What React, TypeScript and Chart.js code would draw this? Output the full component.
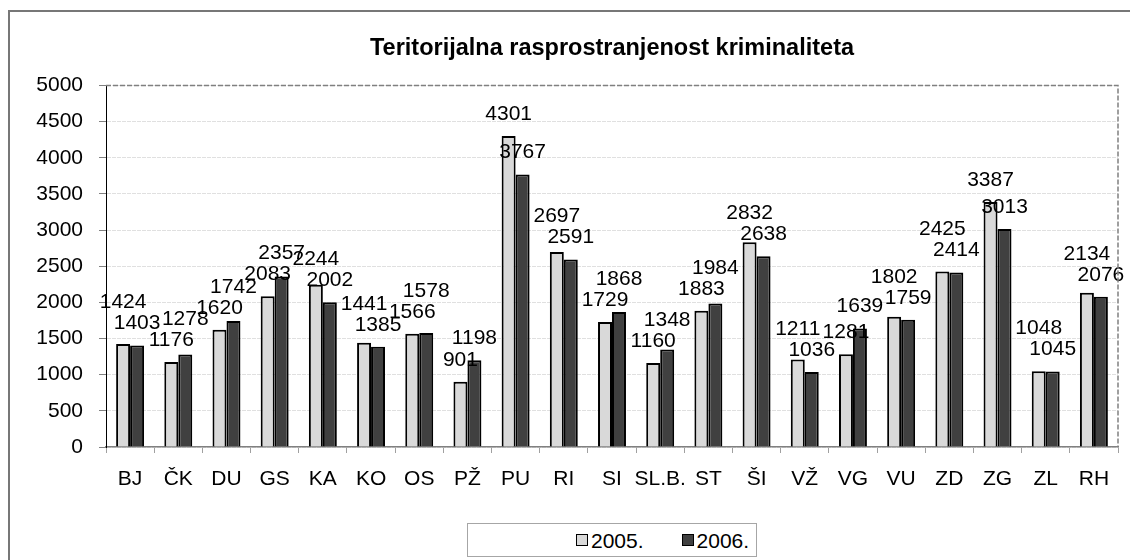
import React, { useEffect, useRef } from 'react';
import { Chart, registerables } from 'chart.js';

Chart.register(...registerables);

const chartTitle = 'Teritorijalna rasprostranjenost kriminaliteta';
const categories = ['BJ', 'ČK', 'DU', 'GS', 'KA', 'KO', 'OS', 'PŽ', 'PU', 'RI', 'SI', 'SL.B.', 'ST', 'ŠI', 'VŽ', 'VG', 'VU', 'ZD', 'ZG', 'ZL', 'RH'];
const values2005 = [1424, 1176, 1620, 2083, 2244, 1441, 1566, 901, 4301, 2697, 1729, 1160, 1883, 2832, 1211, 1281, 1802, 2425, 3387, 1048, 2134];
const values2006 = [1403, 1278, 1742, 2357, 2002, 1385, 1578, 1198, 3767, 2591, 1868, 1348, 1984, 2638, 1036, 1639, 1759, 2414, 3013, 1045, 2076];
const seriesNames = ['2005.', '2006.'];
const seriesColors = ['#d9d9d9', '#404040'];
const yMin = 0;
const yMax = 5000;
const yStep = 500;

const FONT = '"Liberation Sans", Arial, Helvetica, sans-serif';
const TEXT_SIZE = 21;

const valueLabels = {
  id: 'valueLabels',
  afterDatasetsDraw(chart: any) {
    const ctx = chart.ctx;
    const m0 = chart.getDatasetMeta(0);
    const m1 = chart.getDatasetMeta(1);
    const d0 = chart.data.datasets[0].data;
    const d1 = chart.data.datasets[1].data;
    const OFF = 22;
    const GAP = 21;
    ctx.save();
    ctx.font = `${TEXT_SIZE}px ${FONT}`;
    ctx.fillStyle = '#000';
    ctx.textAlign = 'center';
    ctx.textBaseline = 'middle';
    m0.data.forEach((el0: any, i: number) => {
      const el1 = m1.data[i];
      let y0 = el0.y - OFF;
      let y1 = el1.y - OFF;
      if (Math.abs(y0 - y1) < GAP) {
        if (d0[i] >= d1[i]) y0 = y1 - GAP;
        else y1 = y0 - GAP;
      }
      ctx.fillText(String(d0[i]), el0.x, y0);
      ctx.fillText(String(d1[i]), el1.x, y1);
    });
    ctx.restore();
  },
};

const plotFrame = {
  id: 'plotFrame',
  afterDraw(chart: any) {
    const { ctx, chartArea } = chart;
    ctx.save();
    ctx.strokeStyle = '#808080';
    ctx.lineWidth = 1.5;
    ctx.setLineDash([5, 2]);
    ctx.beginPath();
    ctx.moveTo(chartArea.left, chartArea.top);
    ctx.lineTo(chartArea.right, chartArea.top);
    ctx.lineTo(chartArea.right, chartArea.bottom);
    ctx.stroke();
    ctx.restore();
  },
};

export default function App() {
  const canvasRef = useRef<HTMLCanvasElement | null>(null);

  useEffect(() => {
    if (!canvasRef.current) return;
    const chart = new Chart(canvasRef.current, {
      type: 'bar',
      data: {
        labels: categories,
        datasets: [
          {
            label: seriesNames[0],
            data: values2005,
            backgroundColor: seriesColors[0],
            borderColor: '#000',
            borderWidth: 2,
            barPercentage: 1,
            categoryPercentage: 0.58,
          },
          {
            label: seriesNames[1],
            data: values2006,
            backgroundColor: seriesColors[1],
            borderColor: '#000',
            borderWidth: 2,
            barPercentage: 1,
            categoryPercentage: 0.58,
          },
        ],
      },
      options: {
        responsive: false,
        animation: false,
        devicePixelRatio: 1,
        layout: { padding: { left: 0, right: 12, top: 0, bottom: 0 } },
        font: { family: FONT },
        plugins: {
          legend: { display: false },
          tooltip: { enabled: false },
          title: {
            display: true,
            text: chartTitle,
            fullSize: false,
            color: '#000',
            font: { family: FONT, size: 23.5, weight: 'bold' },
            padding: { top: 34, bottom: 23.2 },
          },
        },
        scales: {
          x: {
            offset: true,
            grid: {
              display: true,
              drawOnChartArea: false,
              drawTicks: true,
              tickLength: 6,
              tickColor: '#a0a0a0',
              offset: true,
            },
            border: { display: true, color: '#808080', width: 1.5, dash: [4, 2] },
            ticks: {
              color: '#000',
              font: { family: FONT, size: TEXT_SIZE },
              padding: 14,
              maxRotation: 0,
              autoSkip: false,
            },
            afterFit: (scale: any) => {
              scale.height = 113;
            },
          },
          y: {
            min: yMin,
            max: yMax,
            grid: {
              color: '#e0e0e0',
              lineWidth: 1,
              tickLength: 7,
              tickColor: '#808080',
            },
            border: { display: true, color: '#000', width: 1, dash: [4, 1] },
            ticks: {
              stepSize: yStep,
              color: '#000',
              font: { family: FONT, size: TEXT_SIZE },
              padding: 16,
              callback: (v: any) => String(v),
            },
            afterFit: (scale: any) => {
              scale.width = 106;
            },
          },
        },
      },
      plugins: [valueLabels, plotFrame],
    } as any);
    return () => chart.destroy();
  }, []);

  return (
    <div
      style={{
        position: 'fixed',
        left: 0,
        top: 0,
        width: 1130,
        height: 560,
        overflow: 'hidden',
        background: '#fff',
        fontFamily: FONT,
      }}
    >
      <div
        style={{
          position: 'absolute',
          left: 8,
          top: 10,
          width: 1160,
          height: 620,
          border: '2px solid #777',
          boxSizing: 'border-box',
        }}
      />
      <canvas
        ref={canvasRef}
        width={1130}
        height={560}
        style={{ position: 'absolute', left: 0, top: 0, width: 1130, height: 560 }}
      />
      <div
        style={{
          position: 'absolute',
          left: 467,
          top: 523,
          width: 290,
          height: 34,
          border: '1px solid #a6a6a6',
          boxSizing: 'border-box',
          display: 'flex',
          alignItems: 'center',
          paddingLeft: 108,
          background: '#fff',
        }}
      >
        {seriesNames.map((name, i) => (
          <div key={name} style={{ display: 'flex', alignItems: 'center', marginRight: 38 }}>
            <span
              style={{
                display: 'inline-block',
                width: 10,
                height: 10,
                border: '1px solid #000',
                background: seriesColors[i],
                marginRight: 3,
              }}
            />
            <span style={{ fontSize: TEXT_SIZE, lineHeight: '21px', color: '#000' }}>{name}</span>
          </div>
        ))}
      </div>
    </div>
  );
}
